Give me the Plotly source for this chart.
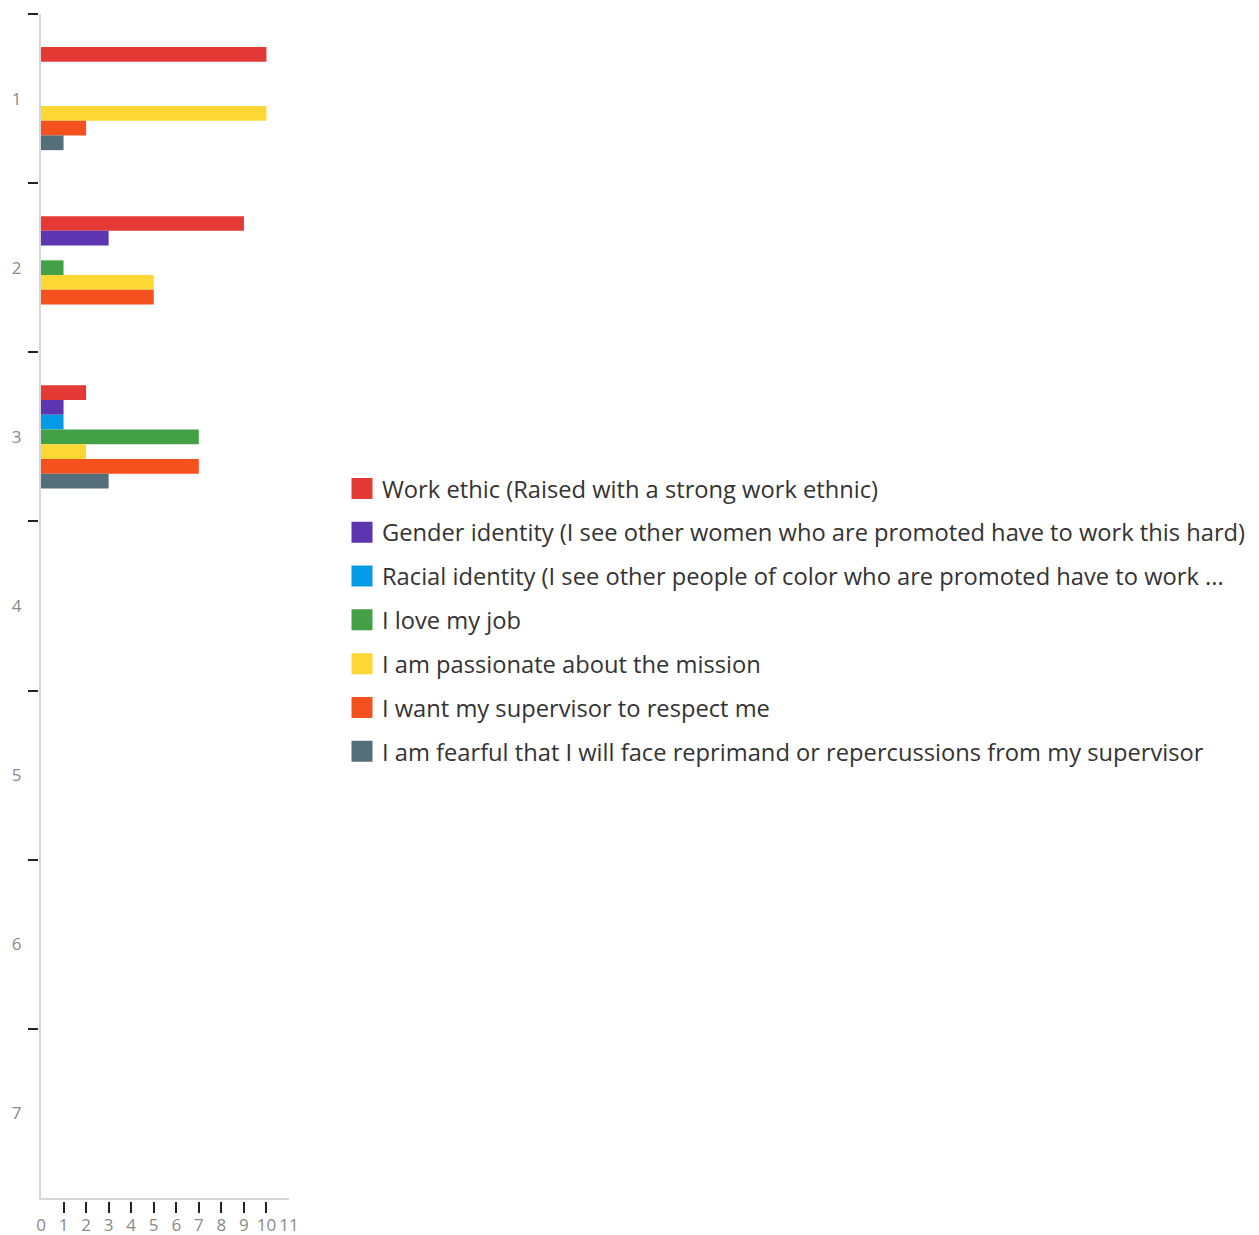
import plotly.graph_objects as go

# Response categories (rows) and the count for each reason
categories = [1, 2, 3, 4, 5, 6, 7]
category_labels = ["1", "2", "3", "4", "5", "6", "7"]

series_names = [
    "Work ethic (Raised with a strong work ethnic)",
    "Gender identity (I see other women who are promoted have to work this hard)",
    "Racial identity (I see other people of color who are promoted have to work ...",
    "I love my job",
    "I am passionate about the mission",
    "I want my supervisor to respect me",
    "I am fearful that I will face reprimand or repercussions from my supervisor",
]

work_ethic = [10, 9, 2, 0, 0, 0, 0]
gender_identity = [0, 3, 1, 0, 0, 0, 0]
racial_identity = [0, 0, 1, 0, 0, 0, 0]
love_job = [0, 1, 7, 0, 0, 0, 0]
passionate = [10, 5, 2, 0, 0, 0, 0]
supervisor_respect = [2, 5, 7, 0, 0, 0, 0]
fearful = [1, 0, 3, 0, 0, 0, 0]

x_ticks = list(range(0, 12))

series_values = [work_ethic, gender_identity, racial_identity, love_job,
                 passionate, supervisor_respect, fearful]
colors = ["#e53935", "#5e35b1", "#039be5", "#43a047",
          "#fdd835", "#f4511e", "#546e7a"]

W, H = 1259, 1235
ML, MR, MT, MB = 36, 0, 14, 33
PW = W - ML - MR
PH = H - MT - MB

fig = go.Figure()

for name, vals, col in zip(series_names, series_values, colors):
    fig.add_trace(go.Bar(
        x=vals, y=categories, orientation="h", name=name,
        marker=dict(color=col, line=dict(width=0)),
        showlegend=False, legendgroup=name,
    ))

# legend keys: square swatches, attached to the tick-mark axes
for name, col in zip(series_names, colors):
    fig.add_trace(go.Scatter(
        x=[None], y=[None], mode="markers", name=name, legendgroup=name,
        xaxis="x2", yaxis="y2",
        marker=dict(symbol="square", size=16, color=col,
                    line=dict(color=col, width=5)),
    ))

x_dom = [5 / PW, 253 / PW]
y_dom = [4 / PH, 1.0]

tick_font = dict(family="Open Sans, sans-serif", size=17, color="#8a8a8a")

fig.update_layout(
    width=W, height=H,
    margin=dict(l=ML, r=MR, t=MT, b=MB, autoexpand=False),
    paper_bgcolor="white", plot_bgcolor="white",
    barmode="group", bargap=0.39, bargroupgap=0,
    xaxis=dict(
        domain=x_dom, range=[0, 11], tickmode="array", tickvals=x_ticks,
        ticktext=[str(v) for v in x_ticks], ticks="", showgrid=False,
        zeroline=False, showline=True, linecolor="#d6d6d6", linewidth=2,
        tickfont=tick_font, ticklabelstandoff=11, automargin=False,
    ),
    yaxis=dict(
        domain=y_dom, range=[7.5, 0.5], tickmode="array", tickvals=categories,
        ticktext=category_labels, ticks="", showgrid=False, zeroline=False,
        showline=True, linecolor="#d6d6d6", linewidth=2,
        tickfont=tick_font, ticklabelstandoff=14, automargin=False,
    ),
    # tick marks drawn just outside the axis lines
    xaxis2=dict(
        overlaying="x", anchor="free", position=1 / PH, range=[0, 11],
        tickmode="array", tickvals=x_ticks[1:-1], ticks="outside", ticklen=11,
        tickwidth=2, tickcolor="#222", showticklabels=False, showgrid=False,
        zeroline=False, showline=False, domain=x_dom,
    ),
    yaxis2=dict(
        overlaying="y", anchor="free", position=2 / PW, range=[7.5, 0.5],
        tickmode="array", tickvals=[c - 0.5 for c in categories],
        ticks="outside", ticklen=10, tickwidth=2, tickcolor="#222",
        showticklabels=False, showgrid=False, zeroline=False, showline=False,
        domain=y_dom,
    ),
    legend=dict(
        x=(342 - ML) / PW, xanchor="left", y=(H - MB - 620) / PH,
        yanchor="middle", orientation="v", tracegroupgap=10,
        font=dict(family="Open Sans, sans-serif", size=23.7, color="#333333"),
        bgcolor="rgba(0,0,0,0)",
    ),
)

fig.write_html("out.html")
